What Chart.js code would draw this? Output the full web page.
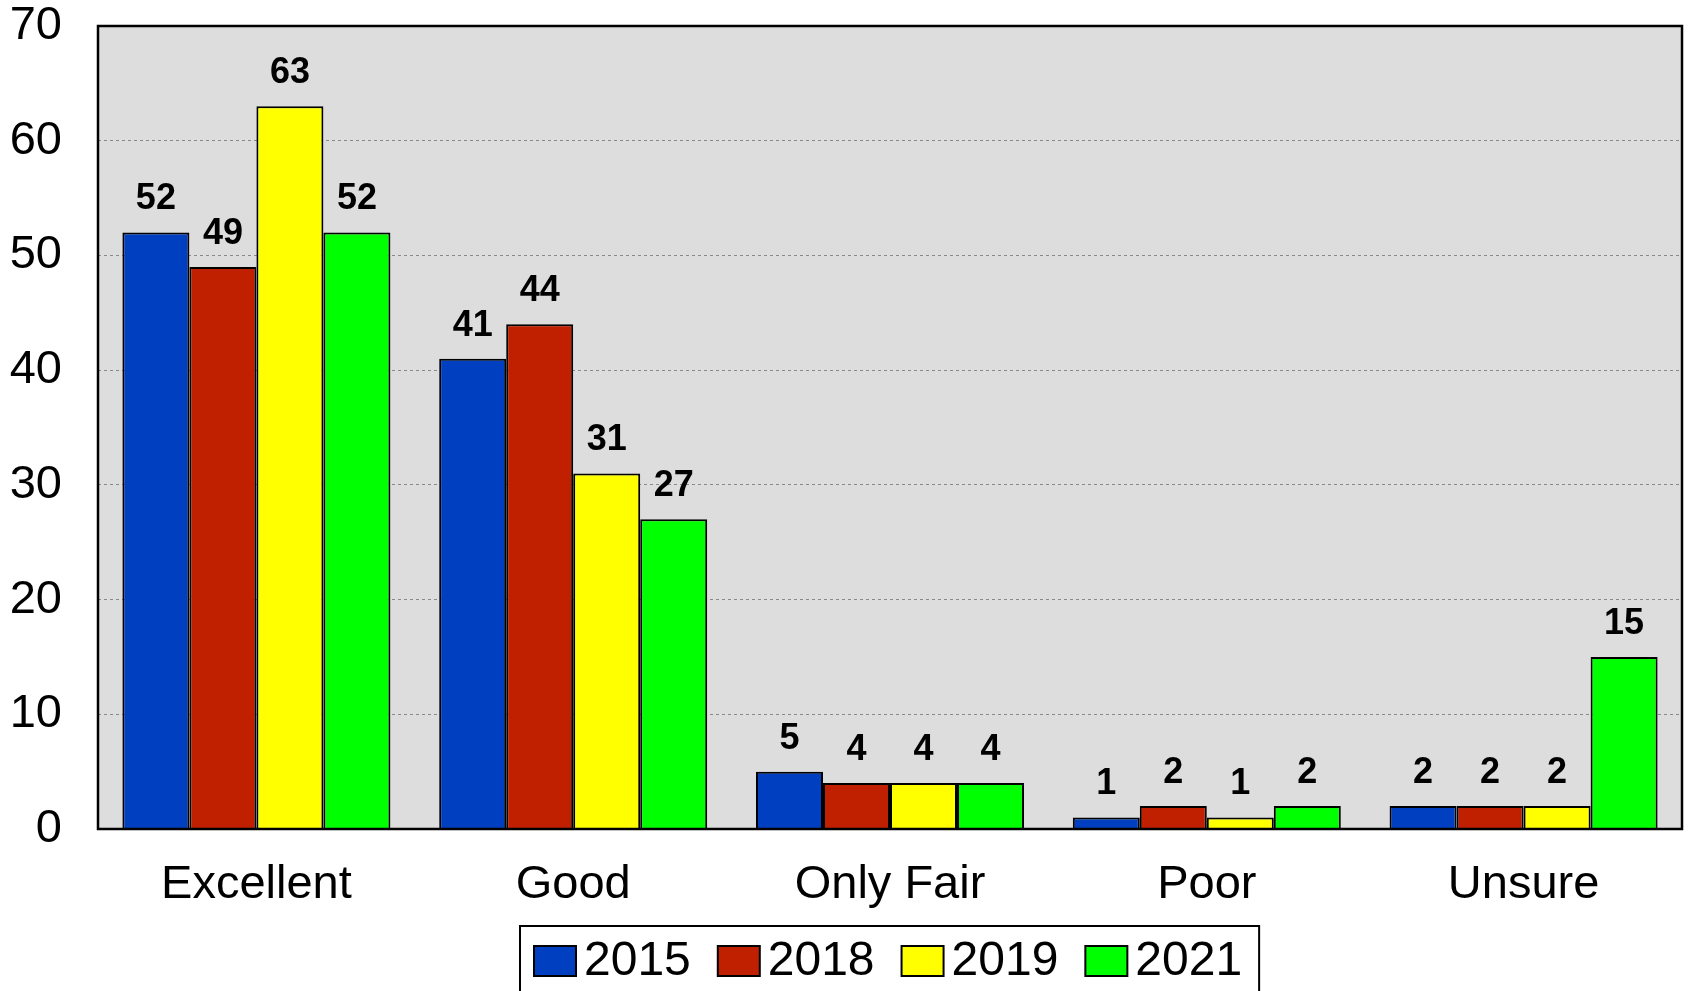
<!DOCTYPE html>
<html>
<head>
<meta charset="utf-8">
<style>
  html, body { margin: 0; padding: 0; background: #ffffff; }
  #wrap { width: 1690px; height: 991px; }
</style>
<script src="https://cdn.jsdelivr.net/npm/chart.js@4.4.1/dist/chart.umd.min.js"></script>
</head>
<body>
<div id="wrap"><canvas id="ratingChart" width="1690" height="991"></canvas></div>
<script>
// Chart data
const categories = ['Excellent', 'Good', 'Only Fair', 'Poor', 'Unsure'];
const seriesNames = ['2015', '2018', '2019', '2021'];
const values2015 = [52, 41, 5, 1, 2];
const values2018 = [49, 44, 4, 2, 2];
const values2019 = [63, 31, 4, 1, 2];
const values2021 = [52, 27, 4, 2, 15];
const seriesColors = ['#0040C0', '#C02000', '#FFFF00', '#00FF00'];
const yTicks = [0, 10, 20, 30, 40, 50, 60, 70];

const FONT = '"Liberation Sans", Arial, Helvetica, sans-serif';

// Plot area background and frame
const plotFrame = {
    id: 'plotFrame',
    beforeDraw(chart) {
        const a = chart.chartArea;
        const ctx = chart.ctx;
        ctx.save();
        ctx.fillStyle = '#DDDDDD';
        ctx.fillRect(a.left, a.top, a.right - a.left, a.bottom - a.top);
        ctx.restore();
    },
    afterDatasetsDraw(chart) {
        const a = chart.chartArea;
        const ctx = chart.ctx;
        ctx.save();
        ctx.strokeStyle = '#000000';
        ctx.lineWidth = 2.5;
        ctx.strokeRect(a.left, a.top, a.right - a.left, a.bottom - a.top);
        ctx.restore();
    }
};

// Value labels above each bar
const valueLabels = {
    id: 'valueLabels',
    afterDatasetsDraw(chart) {
        const ctx = chart.ctx;
        ctx.save();
        ctx.font = 'bold 36px ' + FONT;
        ctx.fillStyle = '#000000';
        ctx.textAlign = 'center';
        ctx.textBaseline = 'middle';
        chart.data.datasets.forEach((ds, i) => {
            chart.getDatasetMeta(i).data.forEach((bar, j) => {
                ctx.fillText(String(ds.data[j]), bar.x, bar.y - 33);
            });
        });
        ctx.restore();
    }
};

// Boxed legend under the category labels
const boxLegend = {
    id: 'boxLegend',
    afterDraw(chart) {
        const ctx = chart.ctx;
        const a = chart.chartArea;
        const sw = 42, sh = 30, gapText = 8, gapItem = 27, padL = 14, padR = 17;
        ctx.save();
        ctx.font = '48px ' + FONT;
        const items = chart.data.datasets.map(ds => ({
            label: ds.label, color: ds.backgroundColor, w: ctx.measureText(ds.label).width
        }));
        let total = padL + padR + gapItem * (items.length - 1);
        items.forEach(it => { total += sw + gapText + it.w; });
        const left = Math.round((a.left + a.right) / 2 - total / 2);
        const top = 926;
        ctx.strokeStyle = '#000000';
        ctx.lineWidth = 2;
        ctx.strokeRect(left, top, total, 100);
        const cy = top + 35;
        let x = left + padL;
        ctx.textBaseline = 'middle';
        ctx.textAlign = 'left';
        items.forEach(it => {
            ctx.fillStyle = it.color;
            ctx.fillRect(x, cy - sh / 2, sw, sh);
            ctx.strokeStyle = '#000000';
            ctx.lineWidth = 2;
            ctx.strokeRect(x, cy - sh / 2, sw, sh);
            x += sw + gapText;
            ctx.fillStyle = '#000000';
            ctx.fillText(it.label, x, cy + 1);
            x += it.w + gapItem;
        });
        ctx.restore();
    }
};

const allValues = [values2015, values2018, values2019, values2021];

const ctx = document.getElementById('ratingChart').getContext('2d');
const ratingChart = new Chart(ctx, {
    type: 'bar',
    data: {
        labels: categories,
        datasets: seriesNames.map((name, i) => ({
            label: name,
            data: allValues[i],
            backgroundColor: seriesColors[i],
            borderColor: '#000000',
            borderWidth: 2,
            categoryPercentage: 0.846,
            barPercentage: 1.0
        }))
    },
    options: {
        responsive: false,
        animation: false,
        devicePixelRatio: 1,
        layout: {
            padding: { left: 0, top: 26, right: 8, bottom: 66 }
        },
        plugins: {
            legend: { display: false },
            tooltip: { enabled: false }
        },
        scales: {
            x: {
                grid: { display: false, drawTicks: false },
                border: { display: false },
                ticks: {
                    color: '#000000',
                    font: { family: FONT, size: 47 },
                    padding: 28,
                    maxRotation: 0
                },
                afterFit(scale) {
                    scale.height = 96;
                    scale.paddingLeft = 0;
                    scale.paddingRight = 0;
                }
            },
            y: {
                min: 0,
                max: 70,
                afterBuildTicks(scale) {
                    scale.ticks = yTicks.map(v => ({ value: v }));
                },
                grid: { color: '#8a8a8a', lineWidth: 1, drawTicks: false },
                border: { display: false, dash: [3, 3] },
                ticks: {
                    color: '#000000',
                    font: { family: FONT, size: 47 },
                    padding: 36
                },
                afterFit(scale) {
                    scale.width = 98;
                    scale.paddingTop = 0;
                    scale.paddingBottom = 0;
                }
            }
        }
    },
    plugins: [plotFrame, valueLabels, boxLegend]
});
</script>
</body>
</html>
